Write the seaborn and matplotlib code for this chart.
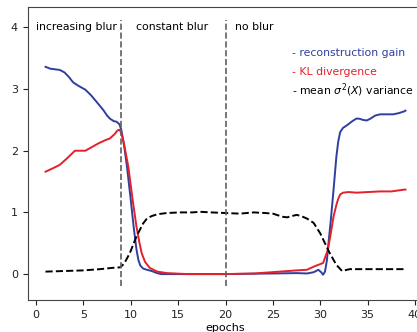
import matplotlib
matplotlib.use("Agg")
import matplotlib.pyplot as plt
import seaborn as sns
import pandas as pd

# reconstruction gain per epoch
gain_epochs = [1, 1.5, 2, 2.5, 3.0, 3.5, 3.9, 4.5, 5.2, 5.8, 6.4, 7.1, 7.5, 7.8, 8.2,
               8.5, 8.8, 9.0, 9.3, 9.6, 10.0, 10.3, 10.6, 10.8, 11.0, 11.3, 11.7, 12.2,
               12.7, 13.2, 15, 20, 25, 27.5, 28.6, 29.3, 29.8, 30.1, 30.3, 30.5, 30.7,
               30.9, 31.1, 31.4, 31.7, 31.9, 32.1, 32.4, 32.8, 33.3, 33.8, 34.1, 34.5,
               34.9, 35.3, 35.8, 36.3, 37.0, 37.7, 38.3, 38.9, 39]
gain_values = [3.36, 3.33, 3.32, 3.31, 3.27, 3.19, 3.11, 3.05, 2.99, 2.90, 2.79, 2.66,
               2.57, 2.52, 2.48, 2.47, 2.43, 2.34, 2.08, 1.74, 1.20, 0.77, 0.40, 0.23,
               0.14, 0.09, 0.07, 0.05, 0.02, 0.00, 0.00, 0.00, 0.01, 0.016, 0.01, 0.03,
               0.07, 0.03, -0.01, 0.04, 0.22, 0.55, 0.85, 1.36, 1.90, 2.15, 2.30, 2.37,
               2.41, 2.47, 2.52, 2.52, 2.50, 2.49, 2.52, 2.57, 2.59, 2.59, 2.59, 2.61,
               2.64, 2.65]

# KL divergence per epoch
kl_epochs = [1, 1.7, 2.5, 3.3, 4.1, 5.2, 5.9, 6.6, 7.3, 7.8, 8.3, 8.6, 8.8, 9.0, 9.3,
             9.74, 10.2, 10.6, 10.9, 11.15, 11.5, 12.0, 12.8, 13.8, 16, 20, 23, 25.75,
             27.5, 28.6, 29.3, 30.3, 30.8, 31.1, 31.4, 31.7, 31.9, 32.1, 32.4, 33.0,
             33.85, 35, 36.3, 37.5, 38.9, 39]
kl_values = [1.66, 1.71, 1.77, 1.88, 2.00, 2.00, 2.06, 2.12, 2.17, 2.20, 2.27, 2.33,
             2.34, 2.29, 2.10, 1.74, 1.20, 0.77, 0.52, 0.34, 0.20, 0.10, 0.04, 0.016,
             0.00, 0.00, 0.01, 0.04, 0.06, 0.07, 0.12, 0.18, 0.39, 0.65, 0.93, 1.12,
             1.22, 1.29, 1.32, 1.33, 1.32, 1.33, 1.34, 1.34, 1.37, 1.37]

# mean sigma^2(X) variance per epoch
var_epochs = [1, 3, 5, 6.75, 8, 8.9, 9.3, 9.9, 10.6, 11.3, 11.7, 12.2, 12.8, 13.8,
              15.2, 16.5, 17.3, 18.5, 20, 21.5, 23, 24.2, 25.0, 26.0, 26.5, 27.5,
              28.0, 28.6, 29.3, 30.0, 30.5, 31.0, 31.7, 32.3, 33.1, 36, 38.8]
var_values = [0.04, 0.05, 0.06, 0.08, 0.10, 0.11, 0.17, 0.34, 0.61, 0.82, 0.90, 0.94,
              0.97, 0.99, 1.00, 1.00, 1.01, 1.00, 0.99, 0.98, 1.00, 0.99, 0.98, 0.93,
              0.92, 0.96, 0.94, 0.90, 0.83, 0.66, 0.50, 0.34, 0.15, 0.05, 0.08, 0.08,
              0.08]

phase_labels = ["increasing blur", "constant blur", "no blur"]
phase_label_x = [0, 10.5, 21]
phase_bounds = [9, 20]

series_labels = ["- reconstruction gain", "- KL divergence", "- mean $\\sigma^2(X)$ variance"]

BLUE = "#2f3f9f"
RED = "#e3212b"

plt.rcParams["font.family"] = ["DejaVu Sans"]
plt.rcParams["font.size"] = 8

fig = plt.figure(figsize=(4.17, 3.32), dpi=100)
ax = fig.add_axes([0.066, 0.0964, 0.9496, 0.8825])

gain_df = pd.DataFrame({"epoch": gain_epochs, "value": gain_values})
kl_df = pd.DataFrame({"epoch": kl_epochs, "value": kl_values})
var_df = pd.DataFrame({"epoch": var_epochs, "value": var_values})

sns.lineplot(data=gain_df, x="epoch", y="value", ax=ax, color=BLUE, lw=1.4, sort=False)
sns.lineplot(data=kl_df, x="epoch", y="value", ax=ax, color=RED, lw=1.4, sort=False)
sns.lineplot(data=var_df, x="epoch", y="value", ax=ax, color="black", lw=1.4,
             linestyle="--", sort=False)

for b in phase_bounds:
    ax.vlines(b, -0.2, 4.12, colors="#606060", linestyles="--", lw=1.2)

for lbl, x in zip(phase_labels, phase_label_x):
    ax.text(x, 4.0, lbl, va="center", ha="left", fontsize=7.8)

for lbl, y, c in zip(series_labels, [3.59, 3.28, 2.98], [BLUE, RED, "black"]):
    ax.text(27.0, y, lbl, va="center", ha="left", fontsize=7.8, color=c)

ax.set_xlim(-0.9, 40.9)
ax.set_ylim(-0.42, 4.33)
ax.set_xticks(range(0, 41, 5))
ax.set_yticks(range(0, 5))
ax.set_xlabel("epochs", fontsize=8, labelpad=2.5)
ax.set_ylabel("")
for s in ax.spines.values():
    s.set_color("#444444")
ax.tick_params(colors="#222222", labelsize=8)

fig.savefig("out.png", dpi=100)
